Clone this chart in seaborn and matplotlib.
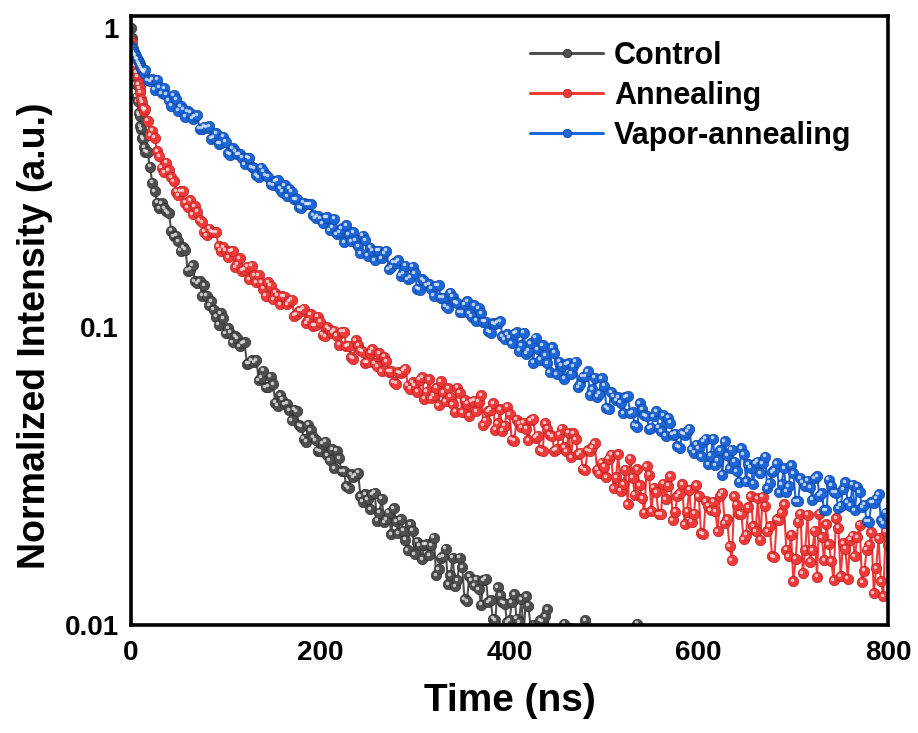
import numpy as np
import pandas as pd
import matplotlib
matplotlib.use("Agg")
import matplotlib.pyplot as plt
import seaborn as sns
from matplotlib.transforms import offset_copy
from matplotlib.lines import Line2D
from matplotlib.ticker import FixedLocator, FixedFormatter, LogLocator, NullFormatter

# ---------------- data ----------------
# main samples: 0..14 ns every 1 ns, then 15..800 ns every 5 ns
TIME = np.concatenate([np.arange(0, 15), np.arange(15, 801, 5)])
# in-between samples: 17.5..797.5 ns every 5 ns
TIME_MID = np.arange(17.5, 800, 5)

control = [
    1.0, 0.93, 0.80, 0.77, 0.68, 0.65, 0.59, 0.57, 0.52, 0.51, 0.47, 0.46, 0.43, 0.425, 0.40,
    0.386, 0.344, 0.285, 0.250, 0.250, 0.240, 0.201, 0.193, 0.185, 0.154,
    0.161, 0.140, 0.127, 0.127, 0.122, 0.108, 0.111, 0.095, 0.0955, 0.093,
    0.086, 0.0886, 0.0754, 0.0760, 0.0662, 0.0711, 0.0629, 0.0641, 0.0543, 0.0569,
    0.0551, 0.0486, 0.0522, 0.0462, 0.0412, 0.0449, 0.0417, 0.0382, 0.0412, 0.0357,
    0.0336, 0.0363, 0.0327, 0.0288, 0.0313, 0.0324, 0.0259, 0.0264, 0.0274, 0.0224,
    0.0265, 0.0226, 0.0202, 0.0223, 0.0226, 0.0193, 0.0218, 0.0173, 0.0185, 0.0186,
    0.0171, 0.0196, 0.0154, 0.0170, 0.0137, 0.0168, 0.0141, 0.0156, 0.0120, 0.0141,
    0.0142, 0.0117, 0.0143, 0.0121, 0.0104, 0.0126, 0.0118, 0.0104, 0.0127, 0.0102,
    0.0094, 0.0116, 0.0100, 0.0081, 0.0103, 0.0113, 0.0078, 0.0086, 0.0095, 0.0068,
    0.0098, 0.0075, 0.0062, 0.0104, 0.0087, 0.0066, 0.0088, 0.0059, 0.0070, 0.0073,
    0.0058, 0.0071, 0.0055, 0.0066, 0.0101, 0.0060, 0.0052, 0.0064, 0.0050, 0.0059,
    0.0048, 0.0057, 0.0046, 0.0055, 0.0049, 0.0044, 0.0053, 0.0045, 0.0050, 0.0042,
    0.0049, 0.0041, 0.0047, 0.0040, 0.0046, 0.0039, 0.0045, 0.0038, 0.0044, 0.0037,
    0.0043, 0.0036, 0.0042, 0.0035, 0.0041, 0.0035, 0.0040, 0.0034, 0.0039, 0.0033,
    0.0038, 0.0033, 0.0037, 0.0032, 0.0036, 0.0031, 0.0036, 0.0031, 0.0035, 0.0030,
    0.0034, 0.0030, 0.0034, 0.0029, 0.0033, 0.0029, 0.0032, 0.0028,
]
control_mid = [
    0.385, 0.304, 0.260, 0.259, 0.244, 0.210, 0.202, 0.180, 0.181, 0.155,
    0.142, 0.142, 0.138, 0.118, 0.114, 0.1015, 0.1066, 0.0987, 0.0886, 0.0917,
    0.0879, 0.0751, 0.0773, 0.0771, 0.0674, 0.0627, 0.068, 0.0556, 0.059, 0.055,
    0.0525, 0.0527, 0.0467, 0.0421, 0.0469, 0.0427, 0.0384, 0.0405, 0.037, 0.0389,
    0.0384, 0.0327, 0.0292, 0.032, 0.0318, 0.027, 0.0274, 0.0245, 0.0278, 0.0238,
    0.0221, 0.0238, 0.0246, 0.0203, 0.0207, 0.0178, 0.0207, 0.019, 0.0166, 0.0187,
    0.0185, 0.0147, 0.0168, 0.018, 0.0147, 0.0135, 0.0168, 0.0122, 0.0146, 0.0136,
    0.0132, 0.0141, 0.0119, 0.0105, 0.0134, 0.0119, 0.0102, 0.0119, 0.0105, 0.0122,
    0.0125, 0.0097, 0.0082, 0.0104, 0.0107, 0.0082, 0.009, 0.0076, 0.0101, 0.0078,
    0.0095, 0.0072, 0.0079, 0.0068, 0.0084, 0.0070, 0.0063, 0.0076, 0.0066, 0.0061,
    0.0068, 0.0059, 0.0064, 0.0070, 0.0057, 0.0062, 0.0055, 0.0060, 0.0053, 0.0058,
    0.0054, 0.0049, 0.0056, 0.0047, 0.0052, 0.0050, 0.0045, 0.0051, 0.0046, 0.0048,
    0.0044, 0.0047, 0.0042, 0.0046, 0.0041, 0.0044, 0.0040, 0.0043, 0.0039, 0.0042,
    0.0038, 0.0041, 0.0037, 0.0040, 0.0036, 0.0039, 0.0035, 0.0038, 0.0034, 0.0037,
    0.0034, 0.0036, 0.0033, 0.0035, 0.0032, 0.0034, 0.0031, 0.0034, 0.0030, 0.0033,
    0.0030, 0.0032, 0.0029, 0.0031, 0.0029, 0.0030, 0.0028,
]

annealing = [
    0.91, 0.89, 0.85, 0.81, 0.78, 0.75, 0.71, 0.69, 0.65, 0.63, 0.61, 0.58, 0.565, 0.54, 0.53,
    0.536, 0.439, 0.430, 0.372, 0.330, 0.334, 0.308, 0.276, 0.285, 0.252,
    0.238, 0.243, 0.224, 0.203, 0.208, 0.207, 0.180, 0.180, 0.179, 0.158,
    0.170, 0.155, 0.144, 0.149, 0.149, 0.134, 0.141, 0.1235, 0.127, 0.1265,
    0.119, 0.123, 0.110, 0.113, 0.1026, 0.110, 0.101, 0.104, 0.093, 0.0976,
    0.097, 0.0871, 0.0962, 0.0863, 0.078, 0.0867, 0.0824, 0.0761, 0.0841, 0.0738,
    0.071, 0.0765, 0.0708, 0.0644, 0.0698, 0.0724, 0.0619, 0.0637, 0.0664, 0.0574,
    0.0667, 0.059, 0.0545, 0.0603, 0.0623, 0.055, 0.0624, 0.0517, 0.0552, 0.056,
    0.0522, 0.0588, 0.0484, 0.0527, 0.0451, 0.0529, 0.0465, 0.0508, 0.0415, 0.0474,
    0.0476, 0.0416, 0.0492, 0.0431, 0.0383, 0.0455, 0.0429, 0.0388, 0.0455, 0.0382,
    0.0365, 0.0419, 0.0378, 0.0331, 0.0382, 0.0406, 0.0322, 0.0339, 0.0361, 0.0287,
    0.0373, 0.0297, 0.0254, 0.0312, 0.0333, 0.0266, 0.034, 0.0241, 0.0279, 0.0235,
    0.0264, 0.0315, 0.024, 0.0276, 0.0218, 0.0284, 0.0236, 0.027, 0.0202, 0.0251,
    0.0259, 0.0206, 0.0278, 0.0226, 0.0165, 0.0253, 0.0235, 0.0201, 0.027, 0.0206,
    0.0193, 0.0251, 0.0214, 0.0169, 0.0225, 0.0254, 0.017, 0.0140, 0.0222, 0.0149,
    0.0234, 0.0178, 0.0145, 0.0197, 0.0218, 0.0164, 0.0228, 0.0146, 0.018, 0.0193,
    0.017, 0.0217, 0.0152, 0.0186, 0.0128, 0.0195, 0.0125, 0.0186,
]
annealing_mid = [
    0.49, 0.454, 0.388, 0.341, 0.354, 0.317, 0.283, 0.285, 0.260, 0.266,
    0.253, 0.227, 0.208, 0.213, 0.2075, 0.186, 0.185, 0.171, 0.180, 0.162,
    0.154, 0.159, 0.160, 0.141, 0.1405, 0.127, 0.137, 0.130, 0.119, 0.126,
    0.1215, 0.109, 0.113, 0.115, 0.105, 0.1006, 0.108, 0.094, 0.0997, 0.0955,
    0.0933, 0.0962, 0.0862, 0.079, 0.090, 0.0834, 0.0758, 0.0818, 0.0756, 0.0813,
    0.0793, 0.0706, 0.0651, 0.0704, 0.0711, 0.0634, 0.0651, 0.0605, 0.0676, 0.0605,
    0.0575, 0.0625, 0.0655, 0.0562, 0.0582, 0.0518, 0.0601, 0.0566, 0.0503, 0.0564,
    0.0561, 0.0468, 0.0521, 0.0554, 0.0475, 0.0448, 0.0539, 0.0418, 0.0487, 0.0461,
    0.0455, 0.0485, 0.0425, 0.0385, 0.0475, 0.0434, 0.0384, 0.0435, 0.0394, 0.0441,
    0.0439, 0.0373, 0.0334, 0.0385, 0.0394, 0.0332, 0.035, 0.0313, 0.0372, 0.0313,
    0.0282, 0.0332, 0.0361, 0.0273, 0.0294, 0.0238, 0.0319, 0.0289, 0.0235, 0.0298,
    0.0293, 0.0225, 0.027, 0.0297, 0.024, 0.0222, 0.0294, 0.0203, 0.026, 0.0243,
    0.0241, 0.0271, 0.0219, 0.0184, 0.027, 0.0236, 0.0194, 0.0248, 0.0214, 0.0266,
    0.0269, 0.0206, 0.017, 0.0226, 0.0239, 0.0179, 0.0201, 0.0167, 0.0236, 0.0179,
    0.0163, 0.0207, 0.0236, 0.0165, 0.0187, 0.0141, 0.0212, 0.0188, 0.0143, 0.0199,
    0.0197, 0.0139, 0.0179, 0.0205, 0.0155, 0.014, 0.0206,
]

vapor = [
    0.87, 0.86, 0.85, 0.83, 0.82, 0.81, 0.79, 0.785, 0.77, 0.76, 0.745, 0.735, 0.725, 0.72, 0.71,
    0.725, 0.665, 0.622, 0.636, 0.630, 0.575, 0.597, 0.530, 0.536, 0.527,
    0.498, 0.511, 0.461, 0.464, 0.427, 0.446, 0.412, 0.417, 0.377, 0.388,
    0.379, 0.351, 0.367, 0.340, 0.317, 0.332, 0.318, 0.298, 0.310, 0.283,
    0.274, 0.283, 0.267, 0.250, 0.257, 0.257, 0.231, 0.230, 0.232, 0.211,
    0.230, 0.207, 0.192, 0.204, 0.207, 0.186, 0.202, 0.173, 0.180, 0.180,
    0.170, 0.180, 0.158, 0.164, 0.148, 0.160, 0.146, 0.151, 0.133, 0.142,
    0.139, 0.127, 0.138, 0.125, 0.1155, 0.126, 0.120, 0.112, 0.122, 0.108,
    0.1047, 0.111, 0.104, 0.0955, 0.1019, 0.1045, 0.0907, 0.0922, 0.0947, 0.0831,
    0.0954, 0.0832, 0.0757, 0.0840, 0.0866, 0.0754, 0.0855, 0.0694, 0.0741, 0.0749,
    0.0696, 0.0763, 0.0642, 0.0683, 0.0591, 0.0674, 0.0596, 0.0634, 0.0529, 0.0585,
    0.0581, 0.0513, 0.0584, 0.0517, 0.0462, 0.0530, 0.0501, 0.0458, 0.0520, 0.0446,
    0.0431, 0.0476, 0.0438, 0.0393, 0.0435, 0.0455, 0.0378, 0.0391, 0.0412, 0.0346,
    0.0421, 0.0357, 0.0319, 0.0370, 0.0387, 0.0328, 0.0392, 0.0304, 0.0337, 0.0348,
    0.0322, 0.0367, 0.0300, 0.0330, 0.0279, 0.0336, 0.0292, 0.0322, 0.0260, 0.0301,
    0.0305, 0.0263, 0.0316, 0.0276, 0.0242, 0.0293, 0.0278, 0.0251, 0.0301, 0.0251,
    0.0242, 0.0279, 0.0253, 0.0222, 0.0257, 0.0275, 0.0219, 0.0232,
]
vapor_mid = [
    0.671, 0.675, 0.673, 0.605, 0.600, 0.551, 0.579, 0.548, 0.506, 0.522,
    0.507, 0.461, 0.468, 0.469, 0.431, 0.411, 0.433, 0.382, 0.396, 0.379,
    0.368, 0.369, 0.342, 0.322, 0.341, 0.322, 0.300, 0.307, 0.290, 0.298,
    0.290, 0.268, 0.252, 0.260, 0.257, 0.236, 0.235, 0.222, 0.233, 0.215,
    0.204, 0.214, 0.219, 0.193, 0.195, 0.176, 0.195, 0.184, 0.167, 0.180,
    0.176, 0.156, 0.164, 0.167, 0.151, 0.144, 0.159, 0.134, 0.144, 0.138,
    0.134, 0.137, 0.125, 0.117, 0.130, 0.121, 0.112, 0.119, 0.111, 0.118,
    0.1151, 0.1038, 0.0966, 0.1029, 0.1032, 0.0929, 0.0943, 0.0879, 0.0958, 0.0866,
    0.0811, 0.0881, 0.0919, 0.0776, 0.0802, 0.0705, 0.0819, 0.0763, 0.067, 0.0753,
    0.0736, 0.0626, 0.0679, 0.0709, 0.0616, 0.0582, 0.0672, 0.0535, 0.0602, 0.0568,
    0.0556, 0.0581, 0.0514, 0.0467, 0.0553, 0.0506, 0.0455, 0.0501, 0.0459, 0.0505,
    0.0496, 0.0435, 0.0397, 0.0439, 0.0445, 0.0389, 0.0402, 0.0368, 0.0421, 0.0369,
    0.0343, 0.0386, 0.0413, 0.0335, 0.0353, 0.0302, 0.0374, 0.0346, 0.0298, 0.0353,
    0.0348, 0.0287, 0.0325, 0.0349, 0.0297, 0.0280, 0.0343, 0.0260, 0.0310, 0.0293,
    0.029, 0.0311, 0.0271, 0.0243, 0.0307, 0.0279, 0.0246, 0.0285, 0.0258, 0.0295,
    0.0291, 0.0248, 0.0223, 0.0258, 0.0265, 0.0225, 0.0238,
]

labels = ["Control", "Annealing", "Vapor-annealing"]
series = [(control, control_mid), (annealing, annealing_mid), (vapor, vapor_mid)]
colors = ["#4f4f4f", "#f03a3a", "#1c66d8"]
edges = ["#2e2e2e", "#b82020", "#0e44a0"]

# ---------------- figure ----------------
sns.set_theme(style="white")
plt.rcParams["font.family"] = ["Liberation Sans", "DejaVu Sans"]
plt.rcParams["font.weight"] = "bold"
plt.rcParams["axes.labelweight"] = "bold"
for key in ["text.color", "axes.labelcolor", "xtick.color", "ytick.color", "axes.edgecolor"]:
    plt.rcParams[key] = "black"

fig = plt.figure(figsize=(9.18, 7.33), dpi=100)
ax = fig.add_axes([131 / 918, 1 - 625 / 733, 757 / 918, 609 / 733])
hl_tr = offset_copy(ax.transData, fig=fig, x=-1.4, y=1.4, units="dots")

for lab, (vals, mids), c, ec in zip(labels, series, colors, edges):
    df = pd.DataFrame({"Time": np.concatenate([TIME, TIME_MID]),
                       "Intensity": np.concatenate([vals, mids])})
    df = df.sort_values("Time").reset_index(drop=True)
    sns.lineplot(data=df, x="Time", y="Intensity", ax=ax, color=c, linewidth=1.5,
                 marker="o", markersize=7.5, markeredgecolor=ec, markeredgewidth=0.5,
                 estimator=None, sort=False, legend=False)
    ax.plot(df["Time"], df["Intensity"], "o", ms=2.5, color="white", alpha=0.7,
            markeredgewidth=0, transform=hl_tr)

ax.set_yscale("log")
ax.set_xlim(0, 800)
ax.set_ylim(0.01, 1.1)
ax.xaxis.set_major_locator(FixedLocator([0, 200, 400, 600, 800]))
ax.xaxis.set_minor_locator(FixedLocator([100, 300, 500, 700]))
ax.yaxis.set_major_locator(FixedLocator([0.01, 0.1, 1]))
ax.yaxis.set_major_formatter(FixedFormatter(["0.01", "0.1", "1"]))
ax.yaxis.set_minor_locator(LogLocator(base=10, subs=np.arange(2, 10)))
ax.yaxis.set_minor_formatter(NullFormatter())

ax.tick_params(which="both", direction="in", top=False, right=False, color="black",
               labelcolor="black")
ax.tick_params(which="major", length=8, width=2.2, labelsize=20, pad=9)
ax.tick_params(which="minor", length=4.5, width=2.2)
ax.tick_params(axis="x", which="major", pad=11)
for lbl in ax.get_xticklabels() + ax.get_yticklabels():
    lbl.set_fontweight("bold")
for sp in ax.spines.values():
    sp.set_linewidth(2.6)
    sp.set_color("black")

ax.set_xlabel("Time (ns)", fontsize=28, fontweight="bold", labelpad=12, color="black")
ax.set_ylabel("Normalized Intensity (a.u.)", fontsize=27, fontweight="bold", color="black")
ax.yaxis.set_label_coords(-0.103, 0.475)

handles = [Line2D([0], [0], color=c, lw=2.2, marker="o", ms=6, markeredgecolor=ec,
                  markeredgewidth=0.6) for c, ec in zip(colors, edges)]
leg = ax.legend(handles, labels, loc="upper left", bbox_to_anchor=(530 / 918, 1 - 41 / 733),
                bbox_transform=fig.transFigure, frameon=False, borderpad=0, borderaxespad=0,
                handlelength=2.4, handletextpad=0.35, labelspacing=0.32,
                prop={"size": 22, "weight": "bold"})
for txt in leg.get_texts():
    txt.set_color("black")

fig.savefig("out.png", dpi=100, facecolor="white")
